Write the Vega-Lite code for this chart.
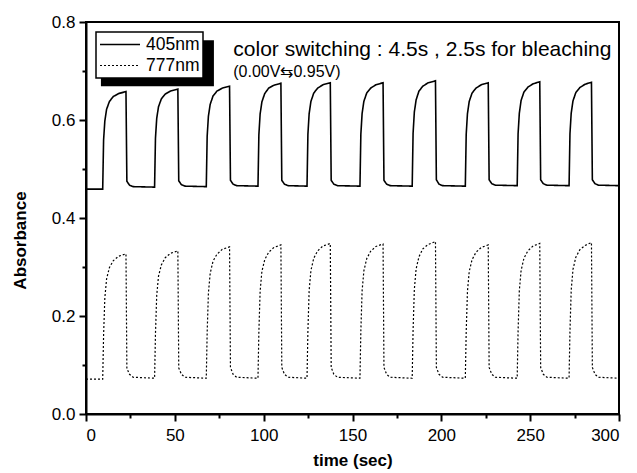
{
  "$schema": "https://vega.github.io/schema/vega-lite/v6.json",
  "width": 533,
  "height": 392,
  "autosize": {"type": "none"},
  "padding": {"left": 86, "top": 22, "right": 18, "bottom": 59},
  "background": "white",
  "config": {
    "font": "Liberation Sans",
    "view": {"stroke": "black", "strokeWidth": 2},
    "axis": {
      "domainColor": "black", "domainWidth": 2,
      "tickColor": "black", "tickWidth": 2,
      "labelColor": "black", "labelFontSize": 17, "labelFont": "Liberation Sans",
      "titleFont": "Liberation Sans", "titleFontSize": 17, "titleFontWeight": "bold", "titleColor": "black",
      "grid": false
    }
  },
  "layer": [
    {
      "data": {"values": [{}]},
      "mark": {"type": "rect", "fill": "black", "stroke": null},
      "encoding": {
        "x": {"datum": 8.4, "type": "quantitative"},
        "x2": {"datum": 72},
        "y": {"datum": 0.763, "type": "quantitative"},
        "y2": {"datum": 0.669}
      }
    },
    {
      "data": {"values": [
        {"time": 0, "405nm": 0.459, "777nm": 0.071},
        {"time": 9.4, "405nm": 0.459, "777nm": 0.071},
        {"time": 9.9, "405nm": 0.559, "777nm": 0.161},
        {"time": 10.6, "405nm": 0.598, "777nm": 0.237},
        {"time": 11.6, "405nm": 0.622, "777nm": 0.276},
        {"time": 13.2, "405nm": 0.638, "777nm": 0.299},
        {"time": 15.4, "405nm": 0.648, "777nm": 0.313},
        {"time": 18.4, "405nm": 0.654, "777nm": 0.322},
        {"time": 22.5, "405nm": 0.658, "777nm": 0.327},
        {"time": 23.0, "405nm": 0.475, "777nm": 0.093},
        {"time": 24.5, "405nm": 0.467, "777nm": 0.081},
        {"time": 26.5, "405nm": 0.464, "777nm": 0.075},
        {"time": 38.6, "405nm": 0.463, "777nm": 0.073},
        {"time": 39.1, "405nm": 0.563, "777nm": 0.164},
        {"time": 39.8, "405nm": 0.603, "777nm": 0.242},
        {"time": 40.8, "405nm": 0.627, "777nm": 0.281},
        {"time": 42.4, "405nm": 0.643, "777nm": 0.304},
        {"time": 44.6, "405nm": 0.653, "777nm": 0.319},
        {"time": 47.6, "405nm": 0.659, "777nm": 0.328},
        {"time": 51.7, "405nm": 0.663, "777nm": 0.333},
        {"time": 52.2, "405nm": 0.476, "777nm": 0.094},
        {"time": 53.7, "405nm": 0.468, "777nm": 0.081},
        {"time": 55.7, "405nm": 0.465, "777nm": 0.075},
        {"time": 67.7, "405nm": 0.464, "777nm": 0.073},
        {"time": 68.2, "405nm": 0.567, "777nm": 0.167},
        {"time": 68.9, "405nm": 0.608, "777nm": 0.247},
        {"time": 69.9, "405nm": 0.632, "777nm": 0.287},
        {"time": 71.5, "405nm": 0.649, "777nm": 0.312},
        {"time": 73.7, "405nm": 0.659, "777nm": 0.326},
        {"time": 76.7, "405nm": 0.665, "777nm": 0.336},
        {"time": 80.8, "405nm": 0.669, "777nm": 0.341},
        {"time": 81.3, "405nm": 0.477, "777nm": 0.095},
        {"time": 82.8, "405nm": 0.469, "777nm": 0.081},
        {"time": 84.8, "405nm": 0.466, "777nm": 0.075},
        {"time": 96.8, "405nm": 0.465, "777nm": 0.073},
        {"time": 97.3, "405nm": 0.570, "777nm": 0.168},
        {"time": 98.0, "405nm": 0.612, "777nm": 0.250},
        {"time": 99.0, "405nm": 0.637, "777nm": 0.291},
        {"time": 100.6, "405nm": 0.654, "777nm": 0.315},
        {"time": 102.8, "405nm": 0.665, "777nm": 0.330},
        {"time": 105.8, "405nm": 0.671, "777nm": 0.340},
        {"time": 109.7, "405nm": 0.675, "777nm": 0.345},
        {"time": 110.2, "405nm": 0.477, "777nm": 0.095},
        {"time": 111.7, "405nm": 0.469, "777nm": 0.081},
        {"time": 113.7, "405nm": 0.466, "777nm": 0.075},
        {"time": 124.4, "405nm": 0.465, "777nm": 0.073},
        {"time": 124.9, "405nm": 0.571, "777nm": 0.169},
        {"time": 125.6, "405nm": 0.613, "777nm": 0.252},
        {"time": 126.6, "405nm": 0.638, "777nm": 0.293},
        {"time": 128.2, "405nm": 0.655, "777nm": 0.318},
        {"time": 130.4, "405nm": 0.665, "777nm": 0.333},
        {"time": 133.4, "405nm": 0.672, "777nm": 0.343},
        {"time": 137.5, "405nm": 0.676, "777nm": 0.348},
        {"time": 138.0, "405nm": 0.477, "777nm": 0.095},
        {"time": 139.5, "405nm": 0.469, "777nm": 0.081},
        {"time": 141.5, "405nm": 0.466, "777nm": 0.075},
        {"time": 154.2, "405nm": 0.465, "777nm": 0.073},
        {"time": 154.7, "405nm": 0.571, "777nm": 0.169},
        {"time": 155.4, "405nm": 0.613, "777nm": 0.251},
        {"time": 156.4, "405nm": 0.638, "777nm": 0.292},
        {"time": 158.0, "405nm": 0.655, "777nm": 0.317},
        {"time": 160.2, "405nm": 0.665, "777nm": 0.332},
        {"time": 163.2, "405nm": 0.672, "777nm": 0.342},
        {"time": 167.2, "405nm": 0.676, "777nm": 0.347},
        {"time": 167.7, "405nm": 0.477, "777nm": 0.095},
        {"time": 169.2, "405nm": 0.469, "777nm": 0.081},
        {"time": 171.2, "405nm": 0.466, "777nm": 0.075},
        {"time": 183.6, "405nm": 0.465, "777nm": 0.073},
        {"time": 184.1, "405nm": 0.573, "777nm": 0.171},
        {"time": 184.8, "405nm": 0.616, "777nm": 0.254},
        {"time": 185.8, "405nm": 0.641, "777nm": 0.296},
        {"time": 187.4, "405nm": 0.659, "777nm": 0.321},
        {"time": 189.6, "405nm": 0.669, "777nm": 0.337},
        {"time": 192.6, "405nm": 0.676, "777nm": 0.346},
        {"time": 196.7, "405nm": 0.680, "777nm": 0.352},
        {"time": 197.2, "405nm": 0.478, "777nm": 0.095},
        {"time": 198.7, "405nm": 0.469, "777nm": 0.081},
        {"time": 200.7, "405nm": 0.466, "777nm": 0.075},
        {"time": 213.5, "405nm": 0.465, "777nm": 0.073},
        {"time": 214.0, "405nm": 0.571, "777nm": 0.168},
        {"time": 214.7, "405nm": 0.613, "777nm": 0.250},
        {"time": 215.7, "405nm": 0.638, "777nm": 0.291},
        {"time": 217.3, "405nm": 0.655, "777nm": 0.315},
        {"time": 219.5, "405nm": 0.665, "777nm": 0.330},
        {"time": 222.5, "405nm": 0.672, "777nm": 0.340},
        {"time": 226.4, "405nm": 0.676, "777nm": 0.345},
        {"time": 226.9, "405nm": 0.478, "777nm": 0.095},
        {"time": 228.4, "405nm": 0.470, "777nm": 0.081},
        {"time": 230.4, "405nm": 0.467, "777nm": 0.075},
        {"time": 242.7, "405nm": 0.466, "777nm": 0.073},
        {"time": 243.2, "405nm": 0.572, "777nm": 0.169},
        {"time": 243.9, "405nm": 0.614, "777nm": 0.252},
        {"time": 244.9, "405nm": 0.640, "777nm": 0.293},
        {"time": 246.5, "405nm": 0.657, "777nm": 0.318},
        {"time": 248.7, "405nm": 0.667, "777nm": 0.333},
        {"time": 251.7, "405nm": 0.674, "777nm": 0.343},
        {"time": 255.4, "405nm": 0.678, "777nm": 0.348},
        {"time": 255.9, "405nm": 0.478, "777nm": 0.095},
        {"time": 257.4, "405nm": 0.470, "777nm": 0.081},
        {"time": 259.4, "405nm": 0.467, "777nm": 0.075},
        {"time": 271.9, "405nm": 0.466, "777nm": 0.073},
        {"time": 272.4, "405nm": 0.572, "777nm": 0.170},
        {"time": 273.1, "405nm": 0.614, "777nm": 0.253},
        {"time": 274.1, "405nm": 0.639, "777nm": 0.295},
        {"time": 275.7, "405nm": 0.656, "777nm": 0.320},
        {"time": 277.9, "405nm": 0.666, "777nm": 0.335},
        {"time": 280.9, "405nm": 0.673, "777nm": 0.344},
        {"time": 284.5, "405nm": 0.677, "777nm": 0.350},
        {"time": 285.0, "405nm": 0.478, "777nm": 0.095},
        {"time": 286.5, "405nm": 0.470, "777nm": 0.081},
        {"time": 288.5, "405nm": 0.467, "777nm": 0.075},
        {"time": 300, "405nm": 0.466, "777nm": 0.073}
      ]},
      "transform": [{"fold": ["405nm", "777nm"], "as": ["series", "absorbance"]}],
      "mark": {"type": "line", "color": "black"},
      "encoding": {
        "x": {"field": "time", "type": "quantitative", "scale": {"domain": [0, 300], "nice": false},
              "axis": {"values": [0, 25, 50, 75, 100, 125, 150, 175, 200, 225, 250, 275, 300],
                       "labelExpr": "datum.value % 50 === 0 ? datum.label : ''",
                       "tickSize": {"condition": {"test": "datum.value % 50 === 0", "value": 7}, "value": 4},
                       "labelPadding": 6, "title": "time (sec)", "titlePadding": 9}},
        "y": {"field": "absorbance", "type": "quantitative", "scale": {"domain": [0, 0.8], "nice": false},
              "axis": {"values": [0, 0.1, 0.2, 0.3, 0.4, 0.5, 0.6, 0.7, 0.8], "format": ".1f",
                       "labelExpr": "round(datum.value * 10) % 2 === 0 ? datum.label : ''",
                       "tickSize": {"condition": {"test": "round(datum.value * 10) % 2 === 0", "value": 7}, "value": 4},
                       "labelPadding": 4, "title": "Absorbance", "titlePadding": 22, "titleY": 218}},
        "strokeDash": {"field": "series", "type": "nominal",
          "scale": {"domain": ["405nm", "777nm"], "range": [[1, 0], [2, 2]]},
          "legend": {"orient": "top-left", "offset": 10, "title": null, "symbolType": "stroke", "symbolSize": 1600,
            "symbolStrokeWidth": 1.3, "symbolStrokeColor": "black", "labelFontSize": 17.5, "labelFont": "Liberation Sans",
            "labelColor": "black", "labelOffset": 5, "clipHeight": 19, "rowPadding": 2, "padding": 3,
            "strokeColor": "black", "fillColor": "white", "cornerRadius": 0, "labelLimit": 0,
            "encode": {"legend": {"update": {"strokeWidth": {"value": 1.5}}}}}},
        "strokeWidth": {"field": "series", "type": "nominal",
          "scale": {"domain": ["405nm", "777nm"], "range": [1.6, 1.2]}, "legend": null}
      }
    },
    {
      "data": {"values": [{}]},
      "mark": {"type": "text", "align": "left", "baseline": "alphabetic", "fontSize": 21, "font": "Liberation Sans", "color": "black"},
      "encoding": {
        "x": {"datum": 82.9, "type": "quantitative"},
        "y": {"datum": 0.73, "type": "quantitative"},
        "text": {"value": "color switching : 4.5s , 2.5s for bleaching"}
      }
    },
    {
      "data": {"values": [{}]},
      "mark": {"type": "text", "align": "left", "baseline": "alphabetic", "fontSize": 16, "font": "Liberation Sans", "color": "black"},
      "encoding": {
        "x": {"datum": 82.9, "type": "quantitative"},
        "y": {"datum": 0.687, "type": "quantitative"},
        "text": {"value": "(0.00V⇆0.95V)"}
      }
    }
  ]
}
